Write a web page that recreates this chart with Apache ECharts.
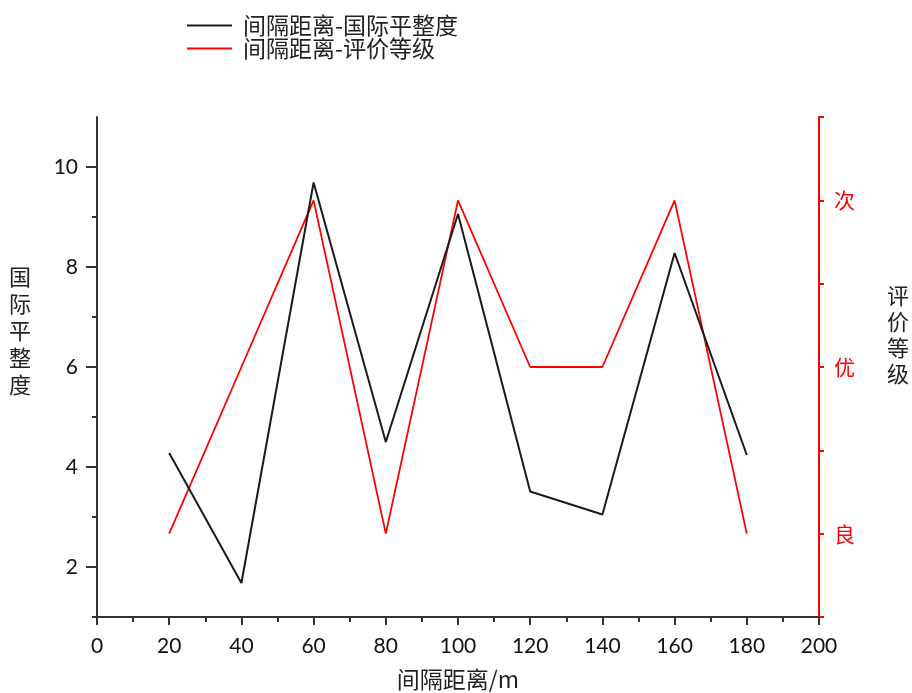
<!DOCTYPE html>
<html>
<head>
<meta charset="utf-8">
<script src="https://cdn.jsdelivr.net/npm/echarts@6/dist/echarts.min.js"></script>
<style>
  html, body { margin: 0; padding: 0; background: #fff; }
  #chart { width: 912px; height: 693px; }
</style>
</head>
<body>
<div id="chart"></div>
<script>
// Spacing (m) along the road and the two measured series
const distances = [20, 40, 60, 80, 100, 120, 140, 160, 180];
const iriValues = [4.28, 1.68, 9.69, 4.5, 9.06, 3.51, 3.05, 8.28, 4.24];
const gradeValues = [1, 2, 3, 1, 3, 2, 2, 3, 1];
const gradeNames = { 1: '良', 2: '优', 3: '次' };

const seriesNames = ['间隔距离-国际平整度', '间隔距离-评价等级'];
const xTickLabels = [0, 20, 40, 60, 80, 100, 120, 140, 160, 180, 200];
const yTickLabels = [2, 4, 6, 8, 10];
const leftTitle = '国际平整度';
const rightTitle = '评价等级';

const cjk = '"Noto Sans CJK SC", "Noto Sans", sans-serif';
const num = 'Lato, "Liberation Sans", sans-serif';

const chart = echarts.init(document.getElementById('chart'), null, { renderer: 'canvas' });

// vertical stacked title text (one character per line)
function stacked(str) { return str.split('').join('\n'); }

chart.setOption({
  animation: false,
  backgroundColor: '#ffffff',
  grid: { left: 97, right: 93, top: 117, bottom: 76, containLabel: false, outerBoundsMode: 'none' },
  legend: {
    orient: 'vertical',
    left: 187,
    top: 14,
    padding: 0,
    itemWidth: 45,
    itemHeight: 2,
    itemGap: 0,
    icon: 'rect',
    data: seriesNames,
    textStyle: { fontFamily: cjk, fontSize: 23, color: '#222', padding: [0, 0, 0, 6] }
  },
  graphic: [
    {
      type: 'text',
      left: 9,
      top: 331 - 68,
      style: {
        text: stacked(leftTitle),
        font: '22px ' + cjk,
        fill: '#222',
        lineHeight: 27,
        align: 'left'
      }
    },
    {
      type: 'text',
      left: 887,
      top: 335 - 52,
      style: {
        text: stacked(rightTitle),
        font: '22px ' + cjk,
        fill: '#222',
        lineHeight: 26,
        align: 'left'
      }
    }
  ],
  xAxis: {
    type: 'value',
    min: 0, max: 200, interval: 20,
    name: '间隔距离/m',
    nameLocation: 'middle',
    nameGap: 51,
    nameTextStyle: { fontFamily: cjk, fontSize: 23, color: '#222' },
    axisLine: { show: true, onZero: false, lineStyle: { color: '#333', width: 2 } },
    axisTick: { show: true, length: 8, lineStyle: { color: '#333', width: 2 } },
    minorTick: { show: true, splitNumber: 2, length: 5, lineStyle: { color: '#333', width: 2 } },
    splitLine: { show: false },
    minorSplitLine: { show: false },
    axisLabel: {
      margin: 19, fontFamily: num, fontSize: 21, color: '#111',
      customValues: xTickLabels
    }
  },
  yAxis: [
    {
      type: 'value',
      position: 'left',
      min: 1, max: 11, interval: 1,
      axisLine: { show: true, onZero: false, lineStyle: { color: '#333', width: 2 } },
      axisTick: { show: true, length: 11, customValues: yTickLabels, lineStyle: { color: '#333', width: 2 } },
      splitLine: { show: false },
      axisLabel: {
        margin: 19, fontFamily: num, fontSize: 21, color: '#111',
        customValues: yTickLabels
      }
    },
    {
      // odd-valued minor ticks on the left axis
      type: 'value',
      position: 'left',
      min: 1, max: 11, interval: 1,
      axisLine: { show: false },
      axisTick: { show: true, length: 5, customValues: [1, 3, 5, 7, 9], lineStyle: { color: '#333', width: 2 } },
      axisLabel: { show: false },
      splitLine: { show: false }
    },
    {
      type: 'value',
      position: 'right',
      min: 0.5, max: 3.5, interval: 0.5,
      axisLine: { show: true, onZero: false, lineStyle: { color: '#ff0000', width: 2 } },
      axisTick: { show: true, length: 5, customValues: [0.5, 1, 1.5, 2, 2.5, 3, 3.5], lineStyle: { color: '#ff0000', width: 2 } },
      splitLine: { show: false },
      axisLabel: {
        margin: 15, fontFamily: cjk, fontSize: 21, color: '#ff0000',
        customValues: [1, 2, 3],
        formatter: v => gradeNames[v] || ''
      }
    }
  ],
  series: [
    {
      name: seriesNames[0],
      type: 'line',
      yAxisIndex: 0,
      data: distances.map((d, i) => [d, iriValues[i]]),
      showSymbol: false,
      symbol: 'none',
      lineStyle: { color: '#1a1a1a', width: 2 },
      itemStyle: { color: '#1a1a1a' },
      z: 3
    },
    {
      name: seriesNames[1],
      type: 'line',
      yAxisIndex: 2,
      data: distances.map((d, i) => [d, gradeValues[i]]),
      showSymbol: false,
      symbol: 'none',
      lineStyle: { color: '#ff0000', width: 1.8 },
      itemStyle: { color: '#ff0000' },
      z: 2
    }
  ]
});
</script>
</body>
</html>
